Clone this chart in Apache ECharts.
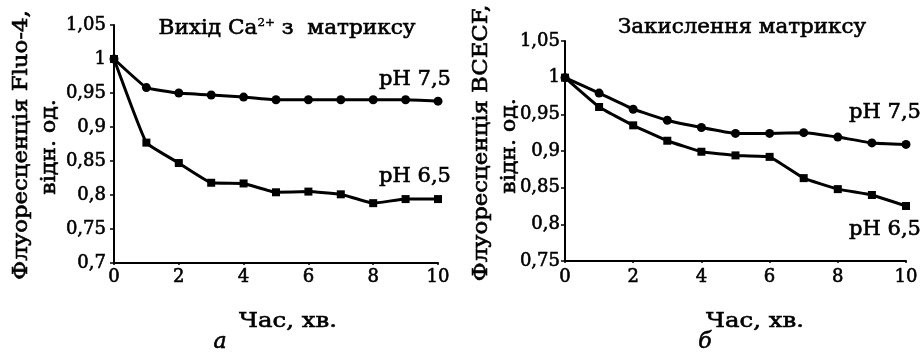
<!DOCTYPE html>
<html>
<head>
<meta charset="utf-8">
<script src="https://cdn.jsdelivr.net/npm/echarts@6/dist/echarts.min.js"></script>
<style>
  html, body { margin: 0; padding: 0; background: #fff; }
  #chart { width: 923px; height: 353px; }
</style>
</head>
<body>
<div id="chart"></div>
<script>
// Time points, minutes
const minutes = [0, 1, 2, 3, 4, 5, 6, 7, 8, 9, 10];

// Panel a: Fluo-4 fluorescence (Ca2+ release from the matrix)
const fluoPH75 = [1.0, 0.958, 0.950, 0.947, 0.944, 0.940, 0.940, 0.940, 0.940, 0.940, 0.938];
const fluoPH65 = [1.0, 0.877, 0.847, 0.818, 0.817, 0.804, 0.805, 0.801, 0.788, 0.794, 0.794];

// Panel b: BCECF fluorescence (matrix acidification)
const bcecfPH75 = [1.0, 0.979, 0.957, 0.942, 0.932, 0.924, 0.924, 0.925, 0.919, 0.911, 0.909];
const bcecfPH65 = [1.0, 0.960, 0.935, 0.914, 0.899, 0.894, 0.892, 0.863, 0.848, 0.840, 0.825];

const FONT = '"DejaVu Serif", "Liberation Serif", serif';
const INK = '#000';
const TEXT_SIZE = 20;
const INK_WEIGHT = 0.6;   // faint outline to darken the serif glyphs

function pairs(ys) { return minutes.map((m, i) => [m, ys[i]]); }
function commaNum(v) {
  let s = v.toFixed(2).replace(/0+$/, '').replace(/\.$/, '');
  return s.replace('.', ',');
}

const tickText = {
  color: INK, fontFamily: FONT, fontSize: 18,
  textBorderColor: INK, textBorderWidth: INK_WEIGHT
};

function xAxisCfg(gridIndex, margin) {
  return {
    type: 'value', gridIndex, min: 0, max: 10, interval: 2,
    axisLine: { show: true, lineStyle: { color: INK, width: 2 } },
    axisTick: { show: true, length: 2, lineStyle: { color: INK, width: 1.5 } },
    axisLabel: Object.assign({ margin }, tickText),
    splitLine: { show: false }
  };
}
function yAxisCfg(gridIndex, min, margin) {
  return {
    type: 'value', gridIndex, min, max: 1.05, interval: 0.05,
    axisLine: { show: true, lineStyle: { color: INK, width: 2 } },
    axisTick: { show: true, length: 4, lineStyle: { color: INK, width: 1.5 } },
    axisLabel: Object.assign({ margin, formatter: commaNum }, tickText),
    splitLine: { show: false }
  };
}
function lineSeries(name, xi, ys, symbol, size) {
  return {
    name, type: 'line', xAxisIndex: xi, yAxisIndex: xi,
    data: pairs(ys), smooth: 0.1,
    symbol, symbolSize: size,
    lineStyle: { color: INK, width: 3 },
    itemStyle: { color: INK },
    emphasis: { disabled: true },
    silent: true, animation: false
  };
}
function label(text, x, y, extra) {
  extra = extra || {};
  return {
    type: 'text', x, y, silent: true,
    rotation: extra.rotation || 0,
    scaleX: extra.stretch || 1,
    style: Object.assign({
      text, fill: INK, fontFamily: FONT, fontSize: TEXT_SIZE,
      stroke: INK, lineWidth: INK_WEIGHT,
      align: 'center', verticalAlign: 'middle'
    }, extra.style || {})
  };
}

const chart = echarts.init(document.getElementById('chart'), null, { renderer: 'canvas' });
chart.setOption({
  backgroundColor: '#fff',
  animation: false,
  grid: [
    { left: 114, right: 485, top: 25, bottom: 90 },
    { left: 565, right: 17, top: 41, bottom: 92 }
  ],
  xAxis: [xAxisCfg(0, 5), xAxisCfg(1, 7)],
  yAxis: [yAxisCfg(0, 0.7, 8), yAxisCfg(1, 0.75, 5)],
  series: [
    lineSeries('pH 7,5', 0, fluoPH75, 'circle', 9),
    lineSeries('pH 6,5', 0, fluoPH65, 'rect', 8),
    lineSeries('pH 7,5', 1, bcecfPH75, 'circle', 9),
    lineSeries('pH 6,5', 1, bcecfPH65, 'rect', 8)
  ],
  graphic: [
    // panel titles
    label('Вихід Ca{sup|2+} з  матриксу', 287, 29, {
      stretch: 1.08,
      style: {
        rich: { sup: { fontFamily: FONT, fontSize: 11, verticalAlign: 'top', lineHeight: 22,
                       fill: INK, stroke: INK, lineWidth: 0.4 } }
      }
    }),
    label('Закислення матриксу', 742, 28, { stretch: 1.07 }),
    // curve labels
    label('pH 7,5', 415, 80, { stretch: 1.05 }),
    label('pH 6,5', 415, 177, { stretch: 1.05 }),
    label('pH 7,5', 885, 113, { stretch: 1.05 }),
    label('pH 6,5', 885, 230, { stretch: 1.05 }),
    // x axis titles
    label('Час, хв.', 288, 322, { stretch: 1.22 }),
    label('Час, хв.', 755, 322, { stretch: 1.22 }),
    // panel letters
    label('а', 220, 342, { style: { fontStyle: 'italic', fontSize: 22 } }),
    label('б', 705, 342, { style: { fontStyle: 'italic', fontSize: 22 } }),
    // y axis titles
    label('Флуоресценція Fluo-4,', 22, 145, { rotation: Math.PI / 2, stretch: 1.14 }),
    label('відн. од.', 50, 147, { rotation: Math.PI / 2, stretch: 1.1 }),
    label('Флуоресценція BCECF,', 482, 143, { rotation: Math.PI / 2, stretch: 1.14 }),
    label('відн. од.', 510, 146, { rotation: Math.PI / 2, stretch: 1.1 })
  ]
});
</script>
</body>
</html>
